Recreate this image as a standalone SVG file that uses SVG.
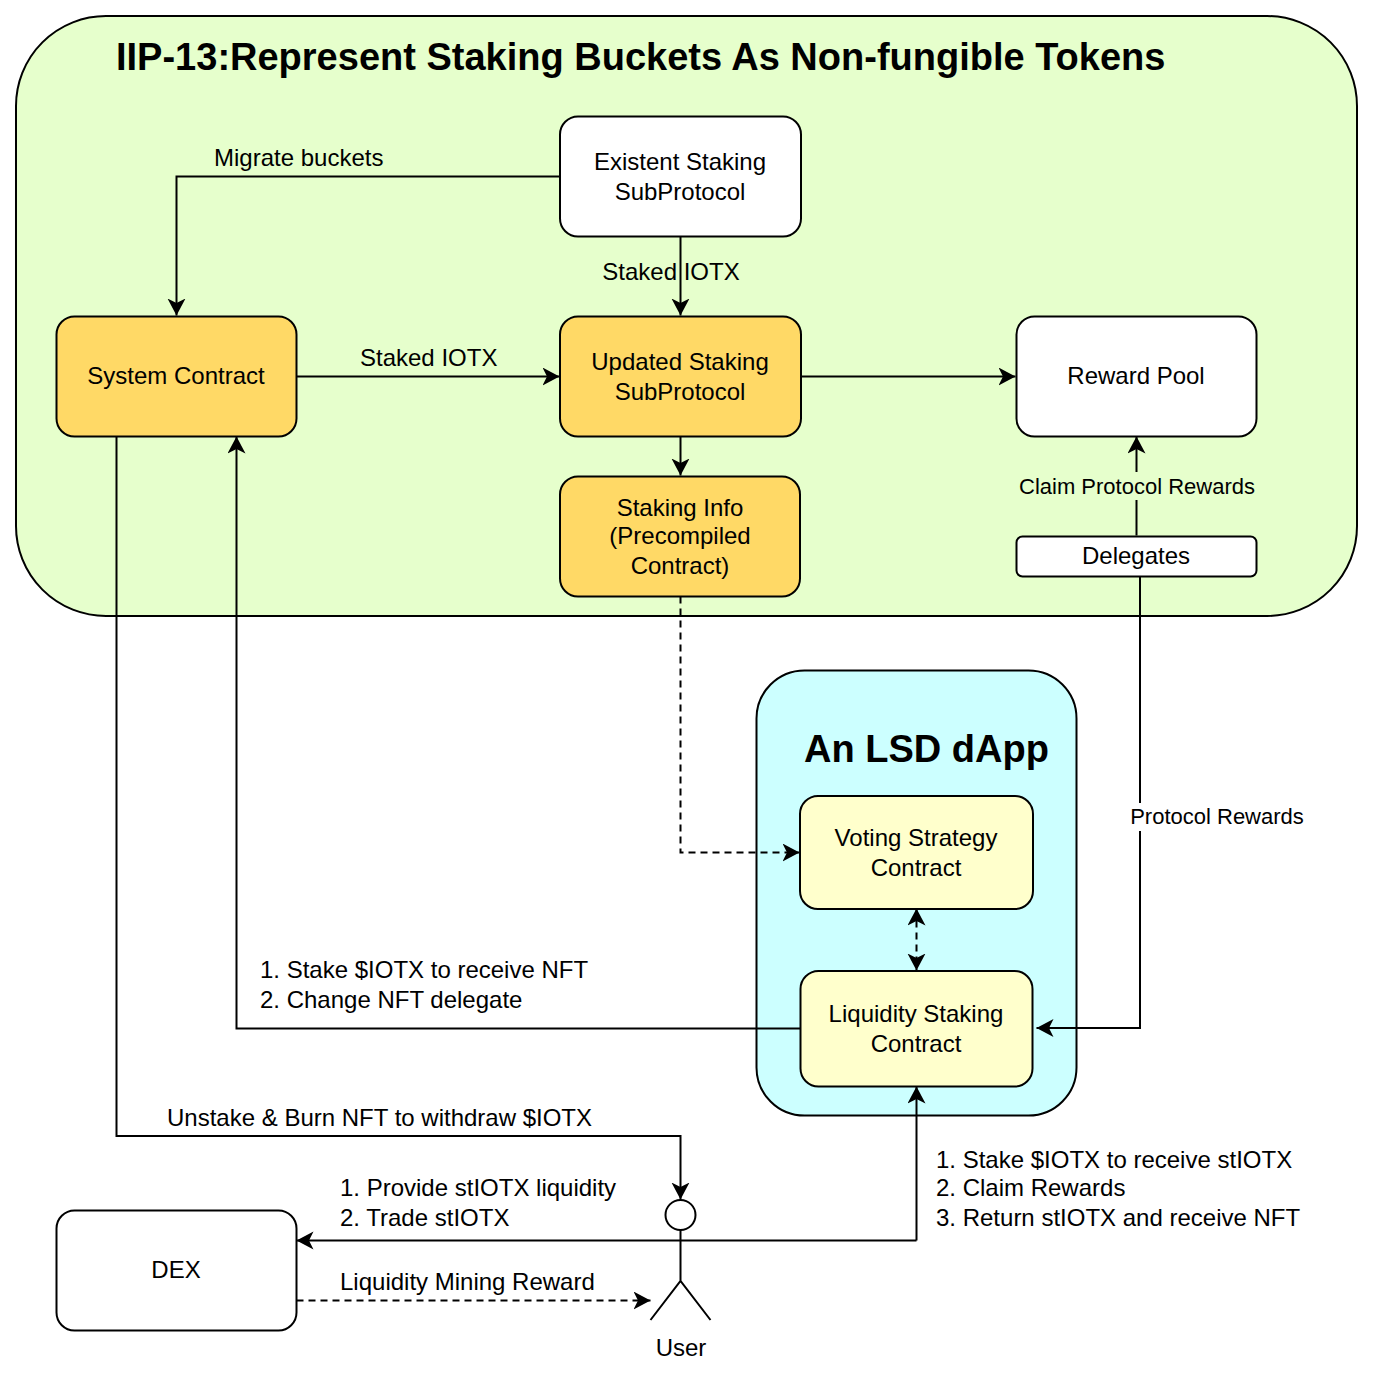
<svg xmlns="http://www.w3.org/2000/svg" width="1374" height="1379" viewBox="0 0 1374 1379">
<style>
text{font-family:"Liberation Sans",Arial,sans-serif;font-size:24px;fill:#000;text-anchor:middle}
.l{text-anchor:start}
.n{fill:#fff;stroke:#000;stroke-width:2}
.o{fill:#ffd966}
.y{fill:#ffffcc}
.c{fill:none;stroke:#000;stroke-width:2}
.d{stroke-dasharray:7 5}
.bg{fill:#e6ffcc}
.s{font-size:22px}
</style>
<defs>
<marker id="a" markerUnits="userSpaceOnUse" markerWidth="19" markerHeight="20" refX="17" refY="9" orient="auto-start-reverse"><path d="M0 0L17 9L0 18L4.5 9Z" fill="#000"/></marker>
</defs>
<rect width="1374" height="1379" fill="#fff"/>
<g id="container-iip"><rect class="n bg" x="16" y="16" width="1341" height="600" rx="90"/>
<text class="l" x="116" y="70" style="font-size:38px;font-weight:bold">IIP-13:Represent Staking Buckets As Non-fungible Tokens</text></g>
<g id="container-lsd"><rect class="n" style="fill:#ccffff" x="756.5" y="670.5" width="320" height="445" rx="48"/>
<text class="l" x="804" y="762" style="font-size:38px;font-weight:bold">An LSD dApp</text></g>
<g id="connectors" transform="translate(-.5 -.5)">
<path class="c" marker-end="url(#a)" d="M560 177H177V316"/>
<path class="c" marker-end="url(#a)" d="M681 237V316"/>
<path class="c" marker-end="url(#a)" d="M297 377H560"/>
<path class="c" marker-end="url(#a)" d="M801 377H1016"/>
<path class="c" marker-end="url(#a)" d="M681 437V476"/>
<path class="c" marker-end="url(#a)" d="M1137 536V437"/>
<path class="c d" marker-end="url(#a)" d="M681 597V853H800"/>
<path class="c d" marker-start="url(#a)" marker-end="url(#a)" d="M917 909V971"/>
<path class="c" marker-end="url(#a)" d="M1140.500 577V1028.500H1037"/>
<path class="c" marker-end="url(#a)" d="M801 1029H237V437"/>
<path class="c" marker-end="url(#a)" d="M117 437V1136.500H681V1200"/>
<path class="c" marker-end="url(#a)" d="M917 1241H297"/>
<path class="c" marker-end="url(#a)" d="M917 1241V1087"/>
<path class="c d" marker-end="url(#a)" d="M297 1301H651"/>
</g>
<g id="node-existent"><rect class="n" x="560" y="116.500" width="241" height="120" rx="18"/><text x="680" y="170">Existent Staking</text><text x="680" y="200">SubProtocol</text></g>
<g id="node-system"><rect class="n o" x="56.500" y="316.500" width="240" height="120" rx="18"/><text x="176" y="384">System Contract</text></g>
<g id="node-updated"><rect class="n o" x="560" y="316.500" width="241" height="120" rx="18"/><text x="680" y="370">Updated Staking</text><text x="680" y="400">SubProtocol</text></g>
<g id="node-reward"><rect class="n" x="1016.500" y="316.500" width="240" height="120" rx="18"/><text x="1136" y="384">Reward Pool</text></g>
<g id="node-stakinginfo"><rect class="n o" x="560" y="476.500" width="240" height="120" rx="18"/><text x="680" y="516">Staking Info</text><text x="680" y="544">(Precompiled</text><text x="680" y="574">Contract)</text></g>
<g id="node-delegates"><rect class="n" x="1016.500" y="536.500" width="240" height="40" rx="6"/><text x="1136" y="564">Delegates</text></g>
<g id="node-voting"><rect class="n y" x="800" y="796" width="233" height="113" rx="18"/><text x="916" y="846">Voting Strategy</text><text x="916" y="876">Contract</text></g>
<g id="node-liquidity"><rect class="n y" x="800.500" y="971" width="232" height="115.500" rx="18"/><text x="916" y="1022">Liquidity Staking</text><text x="916" y="1052">Contract</text></g>
<g id="node-dex"><rect class="n" x="56.500" y="1210.500" width="240" height="120" rx="18"/><text x="176" y="1278">DEX</text></g>
<g id="node-user"><circle class="n" cx="680.500" cy="1215" r="15"/><path class="c" d="M680.500 1230V1281M650.500 1320L680.500 1281L710.500 1320"/><text x="681" y="1356">User</text></g>
<g id="labels">
<text class="l" x="214" y="166">Migrate buckets</text>
<text x="671" y="280">Staked IOTX</text>
<text class="l" x="360" y="366">Staked IOTX</text>
<rect class="bg" x="1018" y="472" width="238" height="28"/><text class="s" x="1137" y="494">Claim Protocol Rewards</text>
<rect x="1130" y="803" width="176" height="28" fill="#fff"/><text class="s" x="1217" y="824">Protocol Rewards</text>
<text class="l" x="260" y="978">1. Stake $IOTX to receive NFT</text>
<text class="l" x="260" y="1008">2. Change NFT delegate</text>
<text class="l" x="167" y="1126">Unstake &amp; Burn NFT to withdraw $IOTX</text>
<text class="l" x="340" y="1196">1. Provide stIOTX liquidity</text>
<text class="l" x="340" y="1226">2. Trade stIOTX</text>
<text class="l" x="340" y="1290">Liquidity Mining Reward</text>
<text class="l" x="936" y="1168">1. Stake $IOTX to receive stIOTX</text>
<text class="l" x="936" y="1196">2. Claim Rewards</text>
<text class="l" x="936" y="1226">3. Return stIOTX and receive NFT</text>
</g>
</svg>
